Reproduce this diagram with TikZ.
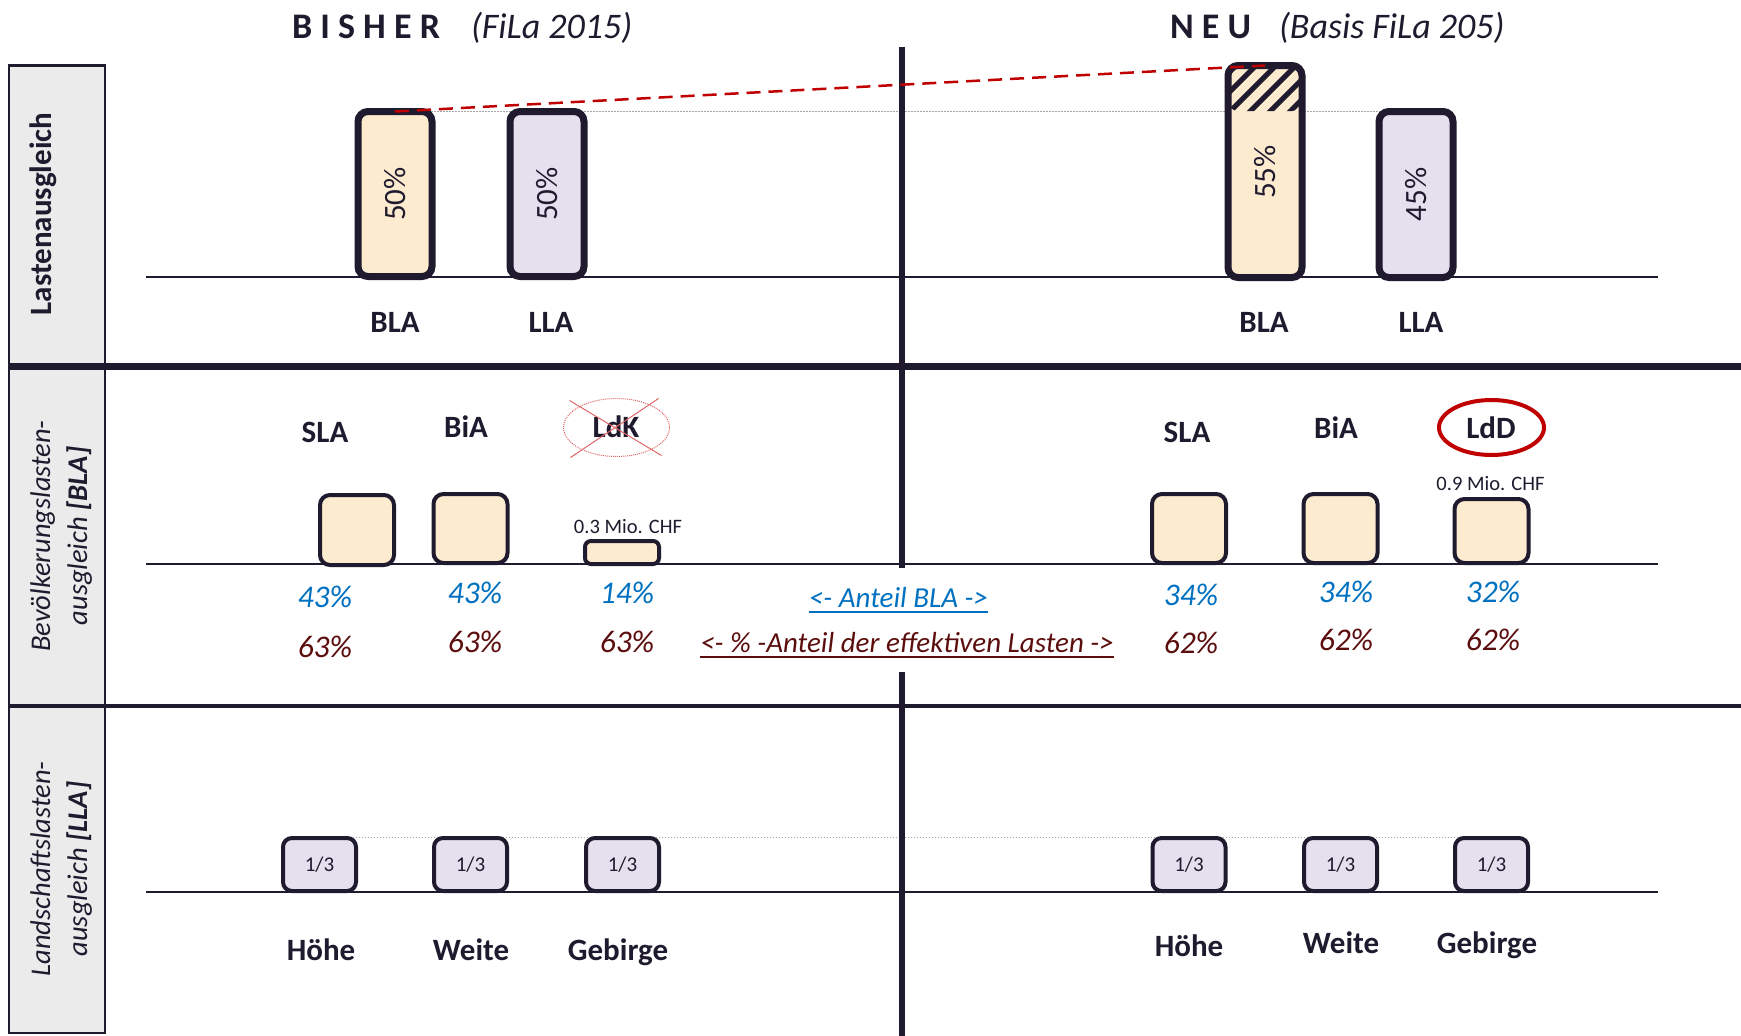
\documentclass[tikz,border=0pt]{standalone}
\usepackage{fontspec}
\setmainfont{Carlito}
\usetikzlibrary{calc}
\definecolor{ink}{HTML}{1F1A2E}
\definecolor{orangefill}{HTML}{FDEBD0}
\definecolor{lavfill}{HTML}{E4E0EE}
\definecolor{sidegray}{HTML}{EBEBEB}
\definecolor{bluetxt}{HTML}{0070C0}
\definecolor{redtxt}{HTML}{5C0E0E}
\definecolor{accentred}{HTML}{C00000}
\definecolor{crossred}{HTML}{E06666}
\definecolor{dotgray}{HTML}{A6A6A6}
\begin{document}
\begin{tikzpicture}[x=1pt,y=-1pt,
  every node/.style={inner sep=0pt, outer sep=0pt, text=ink},
  bigbar/.style={draw=ink, line width=7pt, rounded corners=10pt, minimum width=74pt},
  midbox/.style={draw=ink, line width=4pt, rounded corners=10pt, fill=orangefill, minimum width=74pt},
  thirdbox/.style={draw=ink, line width=4pt, rounded corners=9pt, fill=lavfill, minimum width=73pt, minimum height=53pt, font=\fontsize{21}{25}\selectfont},
  catlabel/.style={font=\fontsize{31}{37}\selectfont\bfseries, anchor=base},
  bluepct/.style={font=\fontsize{31.5}{37}\selectfont\itshape, text=bluetxt, anchor=base},
  redpct/.style={font=\fontsize{31.5}{37}\selectfont\itshape, text=redtxt, anchor=base},
  barpct/.style={font=\fontsize{31}{37}\selectfont, rotate=90},
  miolabel/.style={font=\fontsize{20.5}{24}\selectfont, anchor=base},
  sidebox/.style={draw=ink, line width=2.5pt, fill=sidegray},
  sidetext/.style={font=\fontsize{28.5}{34}\selectfont\itshape, rotate=90, anchor=base},
  titlebold/.style={font=\fontsize{36}{42}\selectfont\bfseries, anchor=base west},
  titleit/.style={font=\fontsize{36}{42}\selectfont\itshape, anchor=base west},
  midtext/.style={font=\fontsize{29}{34}\selectfont\itshape, anchor=base},
  baserule/.style={draw=ink, line width=2.5pt},
  dotrule/.style={draw=dotgray, line width=1pt, dash pattern=on 1.5pt off 1.5pt},
  divider/.style={draw=ink, line width=6pt}
]
\useasboundingbox (0,0) rectangle (1741,1036);

% side column
\draw[sidebox] (9,65.5) rectangle (105,366);
\draw[sidebox] (9,366) rectangle (105,706);
\draw[sidebox] (9,706) rectangle (105,1033);

% section separators
\draw[ink, line width=7pt] (9,366) -- (1741,366);
\draw[ink, line width=3.5pt] (9,706) -- (1741,706);

% baselines
\draw[baserule] (146,277) -- (1658,277);
\draw[baserule] (146,564) -- (1658,564);
\draw[baserule] (146,892) -- (1658,892);

% dotted guide lines
\draw[dotrule] (395,111) -- (1416,111);
\draw[dotrule] (319.5,837) -- (1491.5,837);

% vertical divider
\draw[divider] (902,47) -- (902,568);
\draw[divider] (902,672) -- (902,1036);

% titles
\node[titlebold] (t1) at (292,38) {B I S H E R};
\node[titleit] (t1b) at (471,38) {(FiLa 2015)};
\node[titlebold] (t2) at (1170,38) {N E U};
\node[titleit] (t2b) at (1279,38) {(Basis FiLa 205)};

% side labels
\node[font=\fontsize{31}{37}\selectfont\bfseries, rotate=90, anchor=base] (sideA) at (51,214) {Lastenausgleich};
\node[sidetext] (sideBa) at (50,536) {Bevölkerungslasten-};
\node[sidetext] (sideBb) at (87,536) {ausgleich \textbf{[BLA]}};
\node[sidetext] (sideCa) at (50,869) {Landschaftslasten-};
\node[sidetext] (sideCb) at (87,869) {ausgleich \textbf{[LLA]}};

% top section bars
\node[bigbar, fill=orangefill, minimum height=165pt] (oldBLA) at (395,194) {};
\node[bigbar, fill=lavfill, minimum height=165pt] (oldLLA) at (547,194) {};
\node[bigbar, fill=orangefill, minimum height=212pt,
  path picture={
    \begin{scope}
      \clip (path picture bounding box.north west) rectangle ([yshift=-45.5pt]path picture bounding box.north east);
      \foreach \k in {0,...,7} {
        \draw[ink, line width=5pt] ([xshift={\k*20pt-60pt}, yshift=-48pt]path picture bounding box.north west) -- ++(70,-70);
      }
    \end{scope}
  }] (newBLA) at (1265,171.5) {};
\node[bigbar, fill=lavfill, minimum height=166pt] (newLLA) at (1416,194.5) {};

\node[barpct] (p1) at (oldBLA) {50\%};
\node[barpct] (p2) at (oldLLA) {50\%};
\node[barpct] (p3) at (1265,172) {55\%};
\node[barpct] (p4) at (newLLA) {45\%};

\node[catlabel] (l1) at (395,332) {BLA};
\node[catlabel] (l2) at (551,332) {LLA};
\node[catlabel] (l3) at (1264,332) {BLA};
\node[catlabel] (l4) at (1421,332) {LLA};

% middle section
\node[catlabel] (sla1) at (325,442) {SLA};
\node[catlabel] (bia1) at (466,437) {BiA};
\node[catlabel] (ldk1) at (616,437) {LdK};
\node[catlabel] (sla2) at (1187,442) {SLA};
\node[catlabel] (bia2) at (1336,438) {BiA};
\node[catlabel] (ldd2) at (1491,438) {LdD};

\node[midbox, minimum height=70pt] (oldSLA) at (357,530) {};
\node[midbox, minimum height=69pt] (oldBiA) at (470.5,528.5) {};
\node[midbox, minimum height=23pt, rounded corners=6pt] (oldLdK) at (622,552.5) {};
\node[midbox, minimum height=69pt] (newSLA) at (1189,528.5) {};
\node[midbox, minimum height=69pt] (newBiA) at (1340.5,528.5) {};
\node[midbox, minimum height=64pt] (newLdD) at (1491.5,531) {};

\node[miolabel] (mio1) at (628,533) {0.3 Mio. CHF};
\node[miolabel] (mio2) at (1490.5,490) {0.9 Mio. CHF};

\node[bluepct] (b1) at (325,607) {43\%};
\node[bluepct] (b2) at (475,603) {43\%};
\node[bluepct] (b3) at (627,603) {14\%};
\node[bluepct] (b4) at (1191,605) {34\%};
\node[bluepct] (b5) at (1346,602) {34\%};
\node[bluepct] (b6) at (1493,602) {32\%};

\node[redpct] (r1) at (325,657) {63\%};
\node[redpct] (r2) at (475,652) {63\%};
\node[redpct] (r3) at (627,652) {63\%};
\node[redpct] (r4) at (1191,653) {62\%};
\node[redpct] (r5) at (1346,650) {62\%};
\node[redpct] (r6) at (1493,650) {62\%};

\node[midtext, text=bluetxt] (anteil) at (898.5,607) {<- Anteil BLA ->};
\draw[bluetxt, line width=2pt] ([yshift=-5pt]anteil.base west) -- ([yshift=-5pt]anteil.base east);
\node[midtext, text=redtxt] (effekt) at (907,652) {<- \% -Anteil der effektiven Lasten ->};
\draw[redtxt, line width=2pt] ([yshift=-5pt]effekt.base west) -- ([yshift=-5pt]effekt.base east);

% LdK crossed out
\coordinate (ldkc) at (616.5,427.5);
\draw[crossred, line width=1pt, dash pattern=on 1pt off 1pt] (ldkc) ellipse [x radius=53pt, y radius=29pt];
\draw[crossred, line width=1pt] ($(ldkc)+(-47,-27)$) -- ($(ldkc)+(45,28)$);
\draw[crossred, line width=1pt] ($(ldkc)+(42,-29)$) -- ($(ldkc)+(-46,30)$);

% LdD circled
\draw[accentred, line width=4pt] (1491.5,427.5) ellipse [x radius=52.5pt, y radius=27.5pt];

% bottom section
\node[thirdbox] (h1) at (319.5,864.5) {1/3};
\node[thirdbox] (w1) at (470.5,864.5) {1/3};
\node[thirdbox] (g1) at (622.5,864.5) {1/3};
\node[thirdbox] (h2) at (1189,864.5) {1/3};
\node[thirdbox] (w2) at (1340.5,864.5) {1/3};
\node[thirdbox] (g2) at (1491.5,864.5) {1/3};

\node[catlabel] (hl1) at (321,960) {Höhe};
\node[catlabel] (wl1) at (471,960) {Weite};
\node[catlabel] (gl1) at (618,960) {Gebirge};
\node[catlabel] (hl2) at (1189,956) {Höhe};
\node[catlabel] (wl2) at (1341,953) {Weite};
\node[catlabel] (gl2) at (1487,953) {Gebirge};

% red dashed comparison line
\draw[accentred, line width=2.5pt, dash pattern=on 14pt off 8pt] (oldBLA.north) -- (newBLA.north);
\end{tikzpicture}
\end{document}
